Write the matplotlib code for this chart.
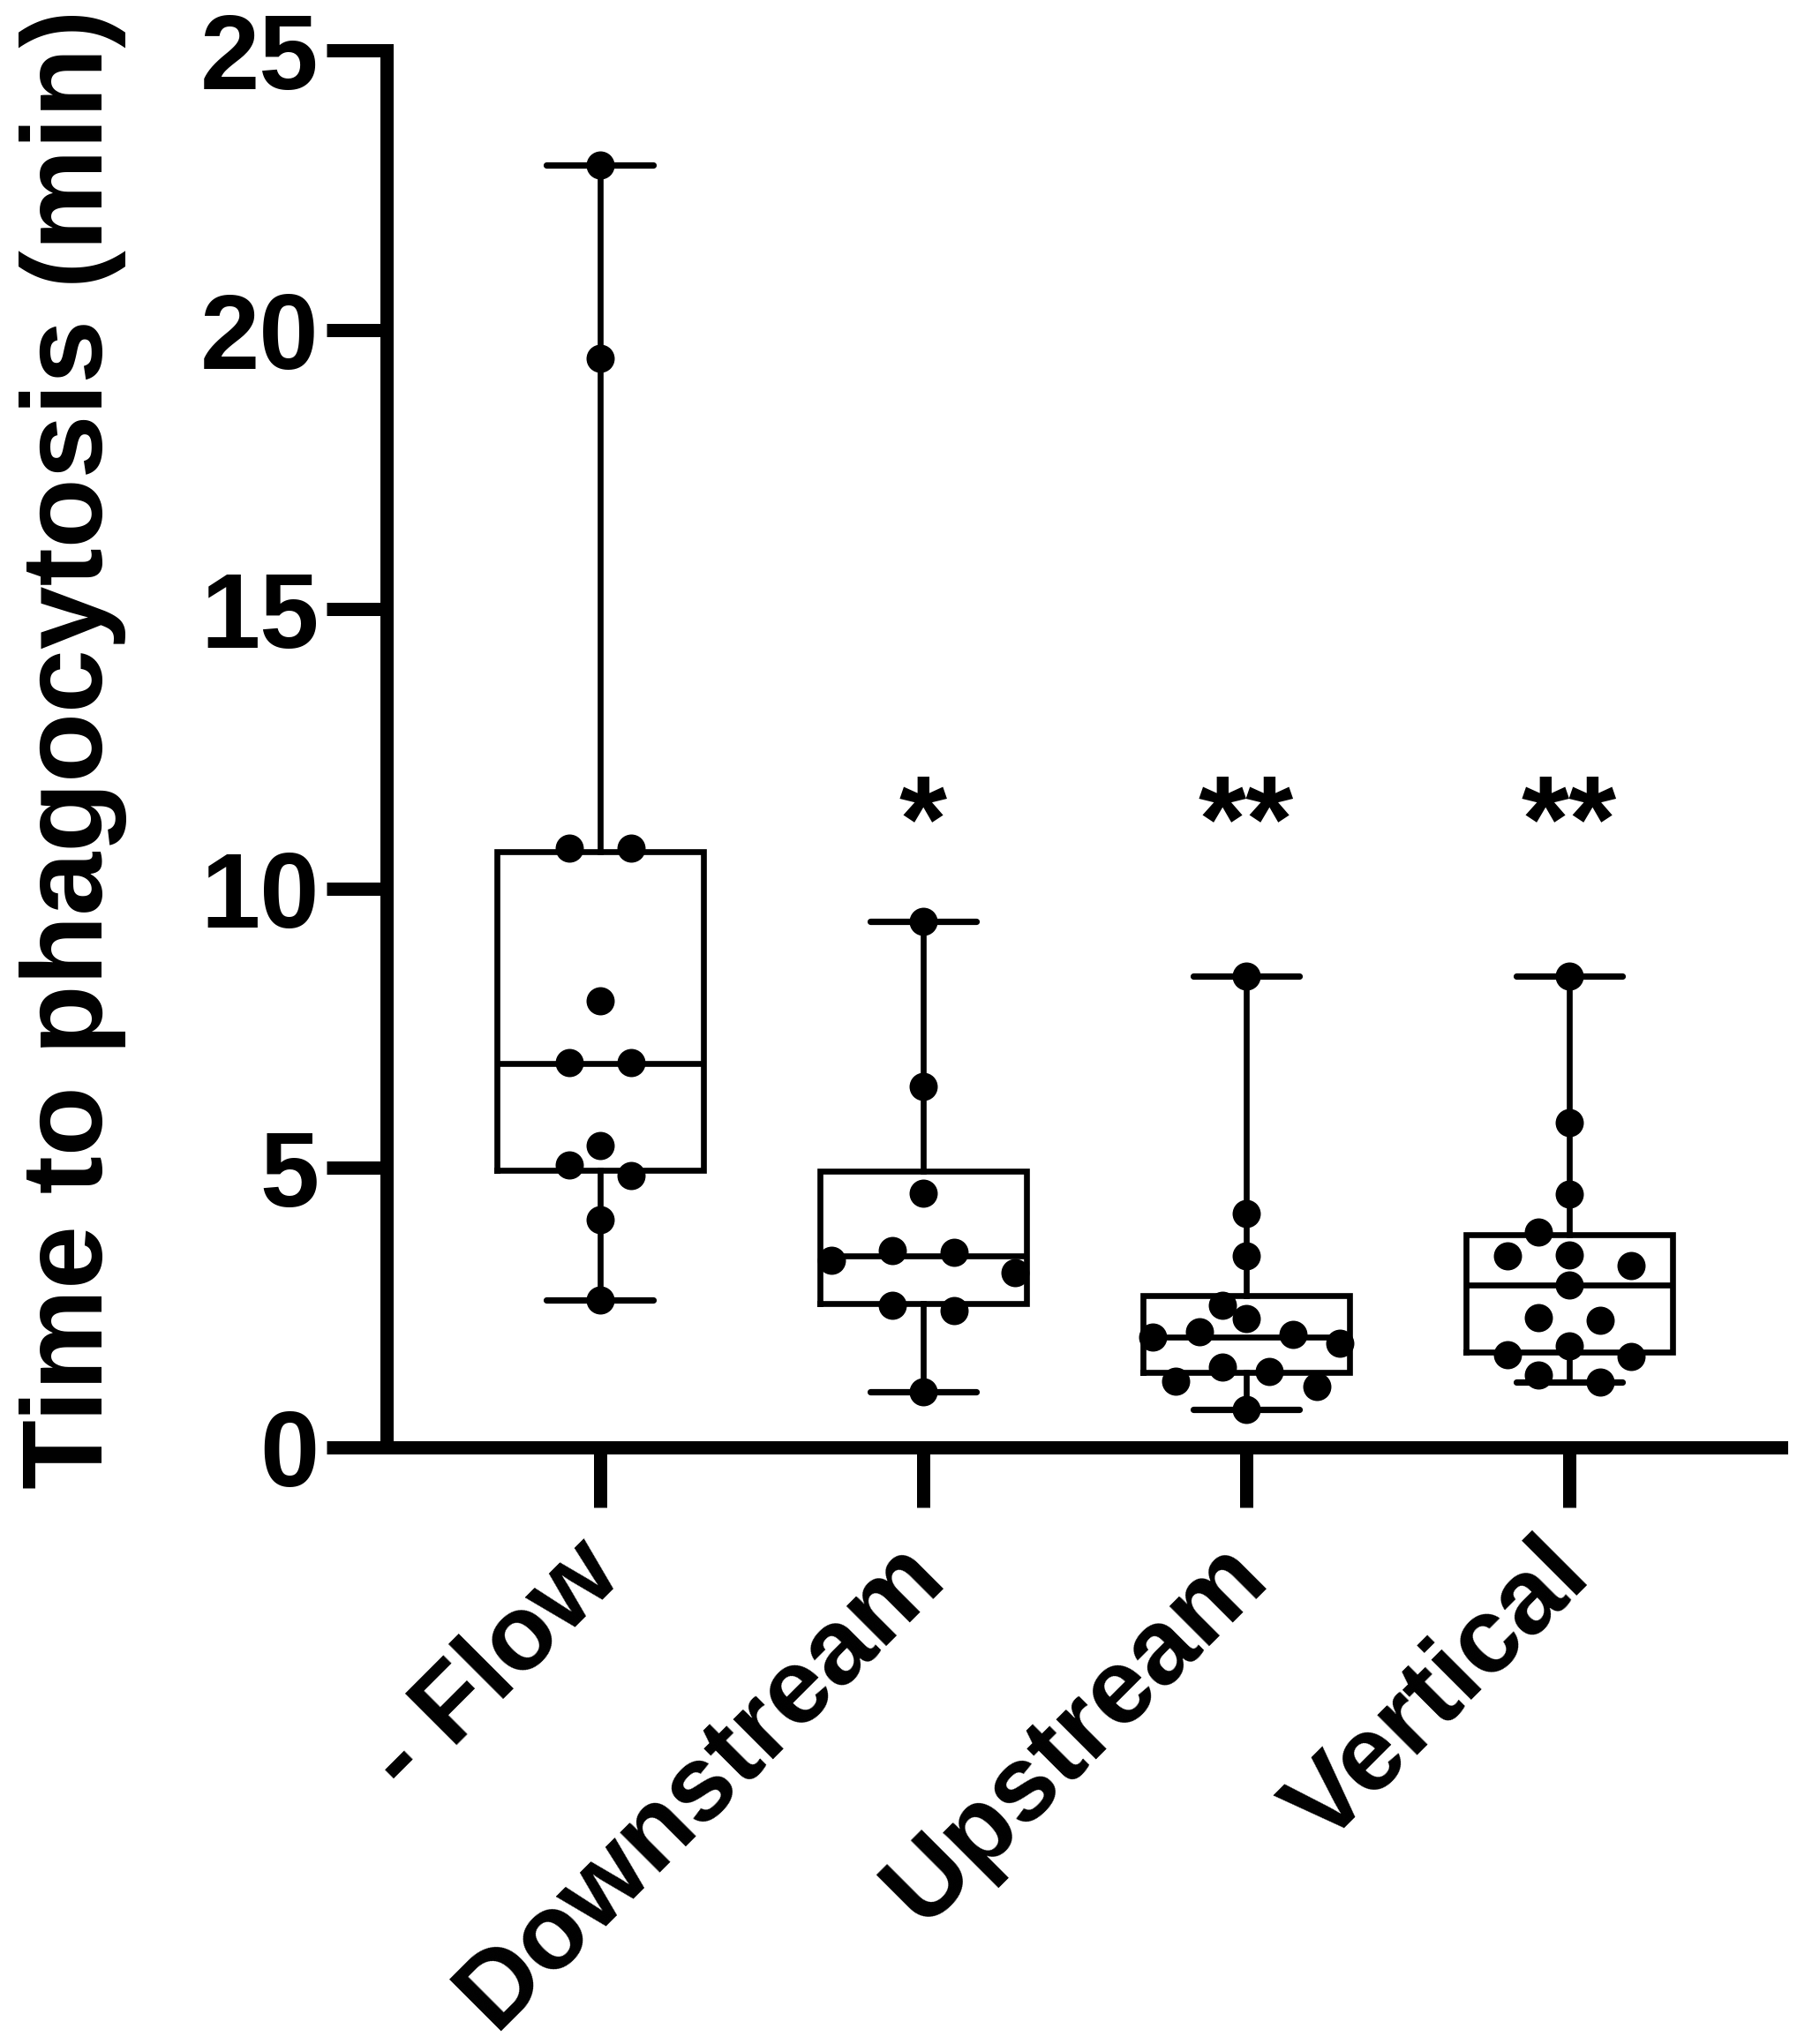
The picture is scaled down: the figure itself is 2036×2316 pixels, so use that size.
import numpy as np
import matplotlib
matplotlib.use('Agg')
import matplotlib.pyplot as plt
import matplotlib.transforms as mtransforms

# Arial-like bold text throughout
plt.rcParams['font.family'] = ['Liberation Sans', 'DejaVu Sans']
plt.rcParams['font.weight'] = 'bold'

# ---- data ----
categories = ['- Flow', 'Downstream', 'Upstream', 'Vertical']

flow = [22.95, 19.5, 10.72, 10.72, 8.0, 6.88, 6.88, 5.4, 5.06, 4.87, 4.07, 2.64]
downstream = [9.41, 6.46, 4.55, 3.52, 3.35, 3.49, 3.12, 2.54, 2.45, 0.99]
upstream = [8.43, 4.18, 3.42, 2.55, 2.30, 2.07, 2.02, 1.97, 1.86, 1.43, 1.36, 1.19, 1.09, 0.68]
vertical = [8.44, 5.82, 4.53, 3.85, 3.45, 3.42, 3.25, 2.9, 2.32, 2.28, 1.82, 1.66, 1.62, 1.3, 1.17]

# box statistics as drawn (min to max whiskers)
box_min = [2.64, 0.99, 0.68, 1.17]
box_q1 = [4.96, 2.58, 1.35, 1.71]
box_med = [6.87, 3.43, 1.97, 2.9]
box_q3 = [10.67, 4.95, 2.72, 3.8]
box_max = [22.95, 9.41, 8.43, 8.44]

signif = ['', '*', '**', '**']
signif_y = 10.5

yticks = [0, 5, 10, 15, 20, 25]


def swarm_x(values, pos, ax, diam_px, tol=0.24, max_span=0.58, max_step=0.19):
    """GraphPad-like row swarm: near-equal values share a row centred on pos."""
    vals = np.asarray(values, float)
    order = np.argsort(vals)
    rows = []
    for i in order:
        if rows and vals[i] - vals[rows[-1][-1]] < tol:
            rows[-1].append(i)
        else:
            rows.append([i])
    nmax = max(len(r) for r in rows)
    step = max_step if nmax < 2 else min(max_step, max_span / (nmax - 1))
    xs = np.full(len(vals), float(pos))
    placed = []
    for row in rows:
        n = len(row)
        slots = sorted([k - (n - 1) / 2 for k in range(n)], key=lambda s: (abs(s), s))
        members = sorted(row, key=lambda i: -vals[i])
        for shift in [0, -0.5, 0.5, -1, 1, -1.5, 1.5]:
            trial = [pos + (s + shift) * step for s in slots]
            pts = ax.transData.transform(np.column_stack([trial, vals[members]]))
            ok = all(np.hypot(*(p - q)) >= diam_px for p in pts for q in placed)
            if ok:
                break
        for i, x, p in zip(members, trial, pts):
            xs[i] = x
            placed.append(p)
    return xs


fig = plt.figure(figsize=(10.18, 11.58), dpi=200)
ax = fig.add_axes([0.2151, 0.2919, 0.7761, 0.6833])
ax.set_xlim(-0.661, 3.656)
ax.set_ylim(0, 25)

stats = []
for i in range(len(categories)):
    stats.append(dict(whislo=box_min[i], q1=box_q1[i], med=box_med[i],
                      q3=box_q3[i], whishi=box_max[i], fliers=[]))

lw = 2.4
ax.bxp(stats, positions=range(len(categories)), widths=0.64, capwidths=0.33,
       showfliers=False,
       boxprops=dict(color='black', linewidth=lw, solid_joinstyle='miter'),
       medianprops=dict(color='black', linewidth=lw),
       whiskerprops=dict(color='black', linewidth=lw),
       capprops=dict(color='black', linewidth=2.6, solid_capstyle='round'))

marker_pt = 11.5
diam_px = marker_pt / 72 * fig.dpi * 0.92
for i, vals in enumerate([flow, downstream, upstream, vertical]):
    xs = swarm_x(vals, i, ax, diam_px)
    ax.scatter(xs, vals, s=marker_pt ** 2, color='black', linewidths=0, zorder=3)

for i, s in enumerate(signif):
    if s:
        ax.text(i, signif_y, s, ha='center', va='baseline', fontsize=50,
                fontweight='bold')

# axes styling
for side in ['top', 'right']:
    ax.spines[side].set_visible(False)
for side in ['left', 'bottom']:
    ax.spines[side].set_linewidth(5.4)
    ax.spines[side].set_capstyle('projecting')

ax.set_yticks(yticks)
ax.set_yticklabels([str(t) for t in yticks])
ax.tick_params(axis='both', direction='out', length=24.5, width=5.4,
               labelsize=43.5, color='black')
ax.tick_params(axis='y', pad=3)
ax.tick_params(axis='x', pad=29)

ax.set_xticks(range(len(categories)))
ax.set_xticklabels(categories, rotation=45, ha='right', va='baseline',
                   rotation_mode='anchor')
offset = mtransforms.ScaledTranslation(27 / 200, 0, fig.dpi_scale_trans)
for lab in ax.get_xticklabels():
    lab.set_transform(lab.get_transform() + offset)

ax.set_ylabel('Time to phagocytosis (min)', fontsize=46.5, fontweight='bold',
              labelpad=30)

fig.savefig('out.png', dpi=200, facecolor='white')
